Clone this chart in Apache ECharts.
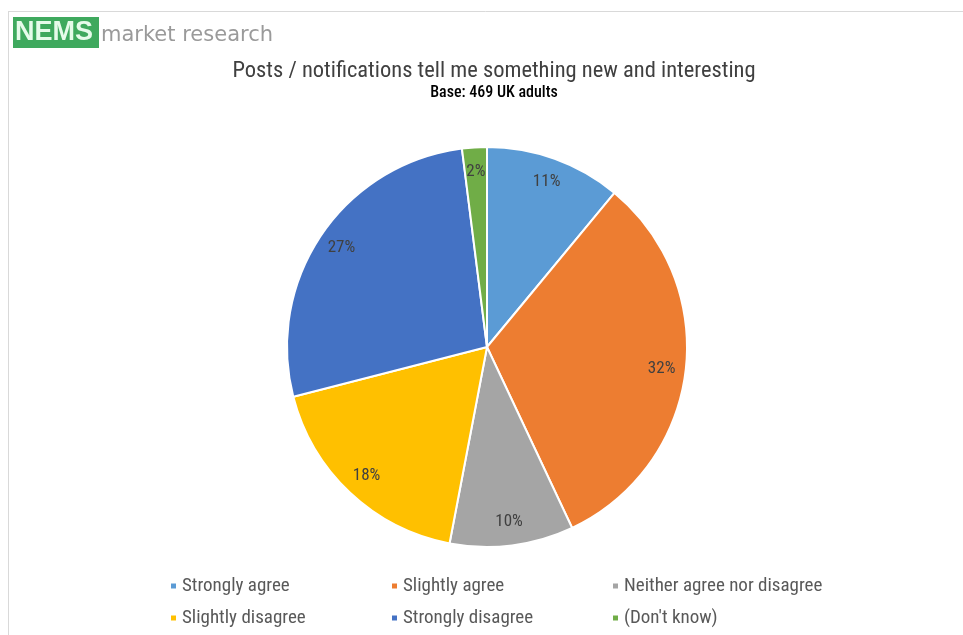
<!DOCTYPE html>
<html>
<head>
<meta charset="utf-8">
<script src="https://cdn.jsdelivr.net/npm/echarts@6/dist/echarts.min.js"></script>
<style>
  html, body { margin: 0; padding: 0; background: #ffffff; }
  #chart { width: 963px; height: 635px; }
</style>
</head>
<body>
<div id="chart"></div>
<script>
// Survey responses (percent of respondents)
const categories = ['Strongly agree', 'Slightly agree', 'Neither agree nor disagree', 'Slightly disagree', 'Strongly disagree', "(Don't know)"];
const shares = [11, 32, 10, 18, 27, 2];
const colors = ['#5B9BD5', '#ED7D31', '#A5A5A5', '#FFC000', '#4472C4', '#70AD47'];

const FONT = '"Liberation Sans Narrow", "Arial Narrow", "Roboto Condensed", "Liberation Sans", sans-serif';

const pieData = categories.map((name, i) => ({ name, value: shares[i], itemStyle: { color: colors[i] } }));

const chart = echarts.init(document.getElementById('chart'), null, { renderer: 'canvas' });

chart.setOption({
  backgroundColor: '#ffffff',
  animation: false,
  title: [
    {
      text: 'Posts / notifications tell me something new and interesting',
      left: 489, top: 55, textAlign: 'center',
      textStyle: { fontFamily: FONT, fontSize: 22.5, fontWeight: 'normal', color: '#404040' }
    },
    {
      text: 'Base: 469 UK adults',
      left: 489, top: 80, textAlign: 'center',
      textStyle: { fontFamily: FONT, fontSize: 16, fontWeight: 500, color: '#000000' }
    }
  ],
  legend: {
    data: categories,
    left: 164, top: 571, width: 690,
    orient: 'horizontal',
    itemWidth: 7, itemHeight: 7, itemGap: 12,
    icon: 'rect',
    selectedMode: false,
    textStyle: { fontFamily: FONT, fontSize: 19, color: '#595959', width: 196, lineHeight: 20 }
  },
  graphic: [
    // frame lines
    { type: 'line', shape: { x1: 8, y1: 11.5, x2: 963, y2: 11.5 }, style: { stroke: '#d9d9d9', lineWidth: 1 } },
    { type: 'line', shape: { x1: 8.5, y1: 11, x2: 8.5, y2: 635 }, style: { stroke: '#d9d9d9', lineWidth: 1 } },
    // logo
    { type: 'rect', shape: { x: 13, y: 17, width: 86, height: 31 }, style: { fill: '#3fa95e' } },
    { type: 'text', left: 15, top: 19, style: { text: 'NEMS', fontFamily: '"Liberation Sans", Arial, sans-serif', fontWeight: 'bold', fontSize: 27, fill: '#e6fbea' } },
    { type: 'text', left: 101, top: 25, style: { text: 'market research', fontFamily: '"DejaVu Sans", sans-serif', fontSize: 21, fill: '#9a9a9a' } }
  ],
  series: [
    {
      type: 'pie',
      center: [487, 347],
      radius: [0, 200],
      startAngle: 90,
      clockwise: true,
      data: pieData,
      label: { show: false },
      labelLine: { show: false },
      itemStyle: { borderColor: '#ffffff', borderWidth: 2 },
      emphasis: { disabled: true }
    },
    {
      // transparent ring carrying the percentage labels near the rim
      type: 'pie',
      center: [487, 347],
      radius: [146, 200],
      startAngle: 90,
      clockwise: true,
      silent: true,
      data: pieData.map(d => ({ name: d.name, value: d.value })),
      itemStyle: { color: 'rgba(0,0,0,0)' },
      label: {
        show: true, position: 'inside',
        formatter: p => p.value + '%',
        fontFamily: FONT, fontSize: 17, color: '#404040'
      },
      labelLine: { show: false },
      emphasis: { disabled: true }
    }
  ]
});
</script>
</body>
</html>
